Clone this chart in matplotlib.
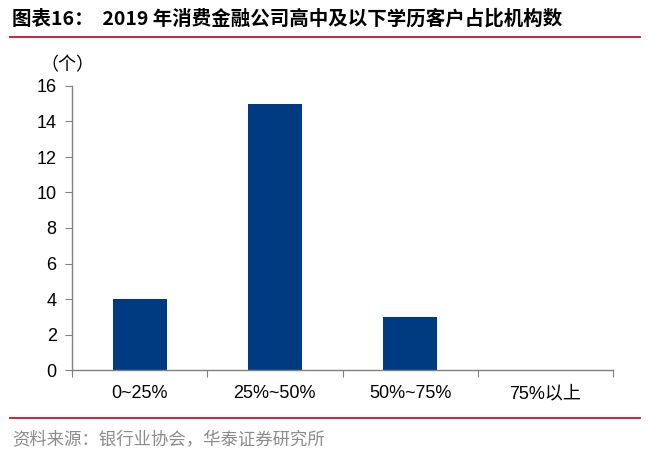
import numpy as np
import matplotlib
matplotlib.use("Agg")
from matplotlib import pyplot as plt

plt.rcParams['font.family'] = ['Liberation Sans', 'Noto Sans CJK SC', 'DejaVu Sans']

categories = ['0~25%', '25%~50%', '50%~75%', '75%以上']
counts = [4, 15, 3, 0]
y_ticks = [0, 2, 4, 6, 8, 10, 12, 14, 16]

BAR_COLOR = '#003a80'
RED = '#c8102e'

fig = plt.figure(figsize=(6.5, 4.73), dpi=100)

# axes placed in pixel coords of the reference: left 72, right 613, y0 at 370, y16 at 86
W, H = 650, 473
ax = fig.add_axes([72 / W, (H - 370) / H, (613 - 72) / W, (370 - 86) / H])

x = np.arange(len(categories))
ax.bar(x, counts, width=0.40, color=BAR_COLOR)

ax.set_xlim(-0.5, len(categories) - 0.5)
ax.set_ylim(0, 16)
ax.set_yticks(y_ticks)
ax.set_yticklabels([str(v) for v in y_ticks], fontsize=13)

# category labels centred, ticks at boundaries
ax.set_xticks(np.arange(len(categories) + 1) - 0.5)
ax.set_xticklabels([])
ax.set_xticks(x, minor=True)
ax.set_xticklabels(categories, minor=True, fontsize=13)
ax.tick_params(axis='x', which='minor', length=0, pad=11)
ax.tick_params(axis='x', which='major', length=5, color='#808080', direction='out')
ax.tick_params(axis='y', length=5, color='#808080', direction='out', pad=6)

for s in ['top', 'right']:
    ax.spines[s].set_visible(False)
for s in ['left', 'bottom']:
    ax.spines[s].set_color('#808080')
    ax.spines[s].set_linewidth(1.0)

fig.text(40 / W, 1 - 65 / H, '（个）', fontsize=13, va='center', ha='left',
         family=['Noto Sans CJK SC', 'DejaVu Sans'])

# title and rules
fig.text(12 / W, 1 - 19 / H, '图表16：  2019 年消费金融公司高中及以下学历客户占比机构数',
         fontsize=14, fontweight='bold', va='center', ha='left',
         family=['Noto Sans CJK SC', 'DejaVu Sans'])
fig.add_artist(plt.Line2D([10 / W, 640 / W], [1 - 37 / H, 1 - 37 / H], color=RED, lw=1.3))
fig.add_artist(plt.Line2D([10 / W, 640 / W], [1 - 418 / H, 1 - 418 / H], color=RED, lw=1.3))

fig.text(12 / W, 1 - 440 / H, '资料来源：银行业协会，华泰证券研究所', fontsize=12.5,
         color='#8c8c8c', va='center', ha='left',
         family=['Noto Sans CJK SC', 'DejaVu Sans'])

fig.savefig('out.png', dpi=100)
